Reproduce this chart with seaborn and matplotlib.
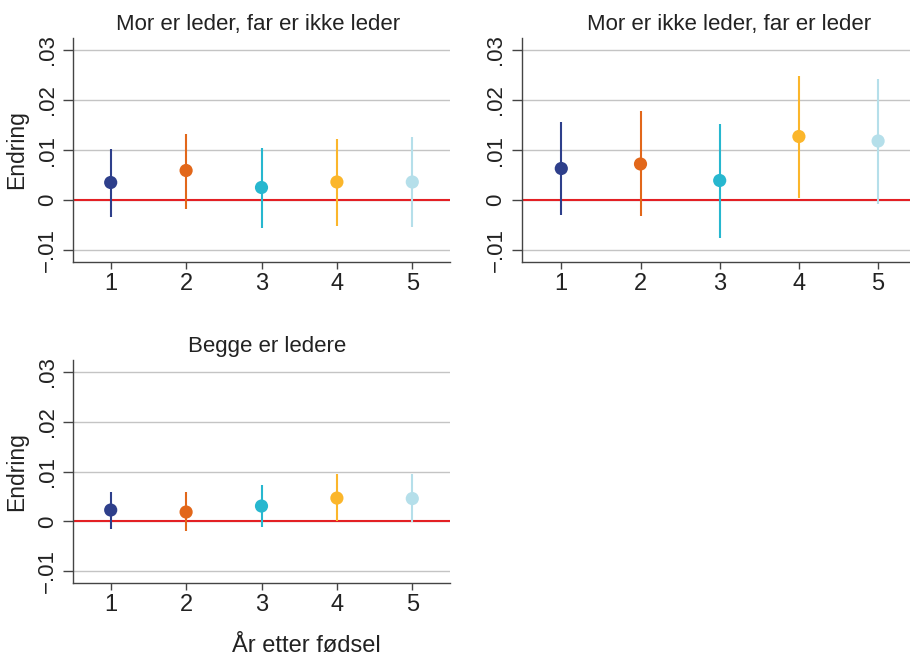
import pandas as pd
import matplotlib
matplotlib.use("Agg")
import matplotlib.pyplot as plt
import seaborn as sns

# data
years = [1, 2, 3, 4, 5]
colors = ["#2e3f8b", "#e2671a", "#27b7cf", "#fbb62b", "#b5dfea"]

titles = ["Mor er leder, far er ikke leder",
          "Mor er ikke leder, far er leder",
          "Begge er ledere"]

est_mor = [0.0035, 0.0059, 0.0025, 0.0036, 0.0036]
lo_mor = [-0.0033, -0.0018, -0.0055, -0.0051, -0.0053]
hi_mor = [0.0103, 0.0133, 0.0105, 0.0123, 0.0126]

est_far = [0.0063, 0.0072, 0.0039, 0.0127, 0.0118]
lo_far = [-0.0030, -0.0032, -0.0075, 0.0004, -0.0007]
hi_far = [0.0157, 0.0178, 0.0153, 0.0249, 0.0242]

est_begge = [0.0023, 0.0019, 0.0031, 0.0047, 0.0046]
lo_begge = [-0.0015, -0.0020, -0.0012, 0.0000, -0.0002]
hi_begge = [0.0060, 0.0059, 0.0073, 0.0095, 0.0095]

yticks = [-0.01, 0, 0.01, 0.02, 0.03]
ytick_labels = ["\u2212.01", "0", ".01", ".02", ".03"]

sns.set_theme(style="white")
plt.rcParams["font.family"] = ["Liberation Sans", "DejaVu Sans"]

fig = plt.figure(figsize=(9.1, 6.56), dpi=100)
W, H = 910, 656

def px_axes(left, top, right, bottom):
    return fig.add_axes([left / W, 1 - bottom / H, (right - left) / W, (bottom - top) / H])

axes = [px_axes(73, 38, 450, 262),
        px_axes(521.7, 38, 917.7, 262),
        px_axes(73, 360, 450, 583.3)]

panels = [(est_mor, lo_mor, hi_mor),
          (est_far, lo_far, hi_far),
          (est_begge, lo_begge, hi_begge)]

title_x = [0.49, 0.523, 0.516]

for i, (ax, (est, lo, hi)) in enumerate(zip(axes, panels)):
    df = pd.DataFrame({"year": years, "est": est, "lo": lo, "hi": hi})
    ax.set_xlim(0.5, 5.5)
    ax.set_ylim(-0.0124, 0.0324)
    for t in yticks:
        ax.axhline(t, color="#c4c4c4", lw=1.0, zorder=0)
    ax.axhline(0, color="#e32024", lw=1.5, zorder=1)
    ax.vlines(df["year"], df["lo"], df["hi"], colors=colors, lw=1.5, zorder=2)
    sns.scatterplot(data=df, x="year", y="est", hue="year", palette=colors,
                    s=90, edgecolor="none", legend=False, ax=ax, zorder=3)
    ax.set_xticks(years)
    ax.set_xticklabels([str(y) for y in years], fontsize=17, color="#222222")
    ax.set_yticks(yticks)
    ax.set_yticklabels(ytick_labels, fontsize=16, rotation=90, va="center",
                       color="#222222")
    ax.tick_params(axis="y", length=7, width=1, color="#444444", pad=4, left=True)
    ax.tick_params(axis="x", length=5, width=1, color="#444444", pad=3, bottom=True)
    sns.despine(ax=ax)
    for s in ["left", "bottom"]:
        ax.spines[s].set_color("#444444")
        ax.spines[s].set_linewidth(1.0)
    ax.set_xlabel("")
    if i in (0, 2):
        ax.set_ylabel("Endring", fontsize=16.5, color="#222222", labelpad=6)
    else:
        ax.set_ylabel("")
    ax.set_title(titles[i], fontsize=16, color="#222222", x=title_x[i], pad=6)

fig.text(306 / W, 1 - 646 / H, "År etter fødsel", fontsize=17, color="#222222",
         ha="center", va="center")

fig.savefig("out.png", dpi=100, facecolor="white")
